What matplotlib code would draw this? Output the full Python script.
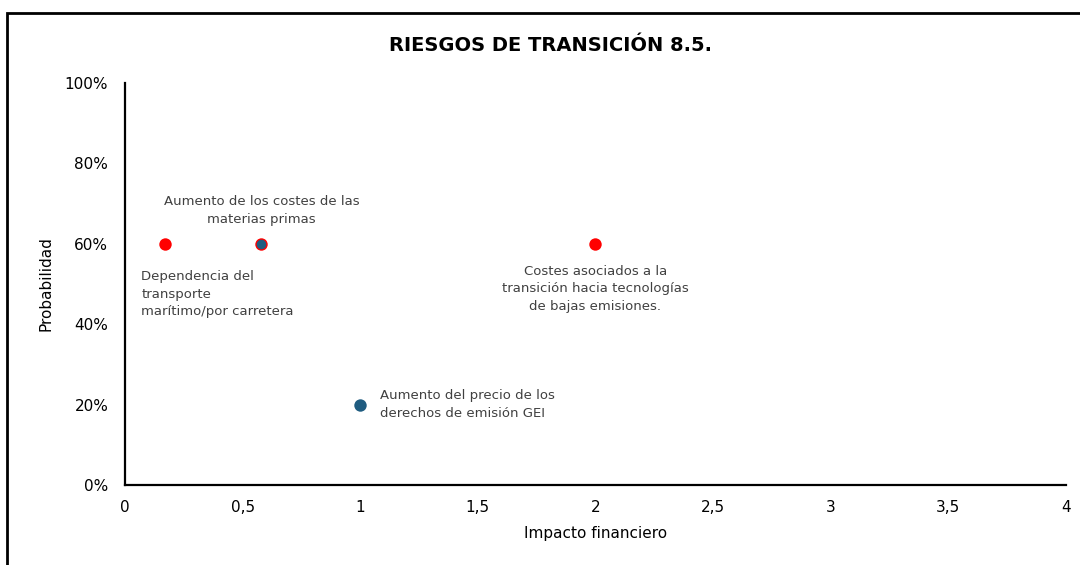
import matplotlib.pyplot as plt
from matplotlib.patches import Rectangle
from matplotlib.ticker import FuncFormatter

# data
red_x = [0.17, 0.58, 2.0]
red_y = [0.60, 0.60, 0.60]
blue_x = [0.58, 1.0]
blue_y = [0.60, 0.20]

labels = [
    "Aumento de los costes de las\nmaterias primas",
    "Dependencia del\ntransporte\nmarítimo/por carretera",
    "Costes asociados a la\ntransición hacia tecnologías\nde bajas emisiones.",
    "Aumento del precio de los\nderechos de emisión GEI",
]
label_pts = [(0.58, 0.60), (0.17, 0.60), (2.0, 0.60), (1.0, 0.20)]

plt.rcParams['font.family'] = ['DejaVu Sans']

fig = plt.figure(figsize=(10.8, 5.65), dpi=100)
ax = fig.add_axes([0.1157, 0.1416, 0.8713, 0.7115])

ax.scatter(red_x, red_y, s=80, color='#ff0000', zorder=3, linewidths=0)
ax.scatter(blue_x[:1], blue_y[:1], s=48, color='#1f5c80', zorder=4, linewidths=0)
ax.scatter(blue_x[1:], blue_y[1:], s=80, color='#1f5c80', zorder=4, linewidths=0)

txt = dict(fontsize=9.5, color='#404040', linespacing=1.45)
ax.annotate(labels[0], label_pts[0], xytext=(0, 13), textcoords='offset points',
            ha='center', va='bottom', **txt)
ax.annotate(labels[1], label_pts[1], xytext=(-17, -19), textcoords='offset points',
            ha='left', va='top', **txt)
ax.annotate(labels[2], label_pts[2], xytext=(0, -15), textcoords='offset points',
            ha='center', va='top', **txt)
ax.annotate(labels[3], label_pts[3], xytext=(14, 0), textcoords='offset points',
            ha='left', va='center', **txt)

ax.set_xlim(0, 4)
ax.set_ylim(0, 1)
ax.set_xticks([0, 0.5, 1, 1.5, 2, 2.5, 3, 3.5, 4])
ax.set_yticks([0, 0.2, 0.4, 0.6, 0.8, 1.0])
ax.xaxis.set_major_formatter(FuncFormatter(lambda v, p: f"{v:g}".replace('.', ',')))
ax.yaxis.set_major_formatter(FuncFormatter(lambda v, p: f"{v * 100:.0f}%"))
ax.tick_params(length=0, labelsize=11, colors='black')
ax.tick_params(axis='x', pad=11)
ax.tick_params(axis='y', pad=12)

for s in ['top', 'right']:
    ax.spines[s].set_visible(False)
for s in ['left', 'bottom']:
    ax.spines[s].set_linewidth(1.6)

ax.set_xlabel("Impacto financiero", fontsize=11, labelpad=8)
ax.set_ylabel("Probabilidad", fontsize=11, labelpad=8)

fig.text(0.51, 0.92, "RIESGOS DE TRANSICIÓN 8.5.", ha='center', va='center',
         fontsize=14, fontweight='bold')

# outer frame, right and bottom edges fall outside the image
fig.patches.append(Rectangle((7 / 1080, -0.1), 1.2, 1.1 - 13 / 565,
                             transform=fig.transFigure, fill=False,
                             edgecolor='black', linewidth=2, clip_on=False))

fig.savefig('out.png', dpi=100)
